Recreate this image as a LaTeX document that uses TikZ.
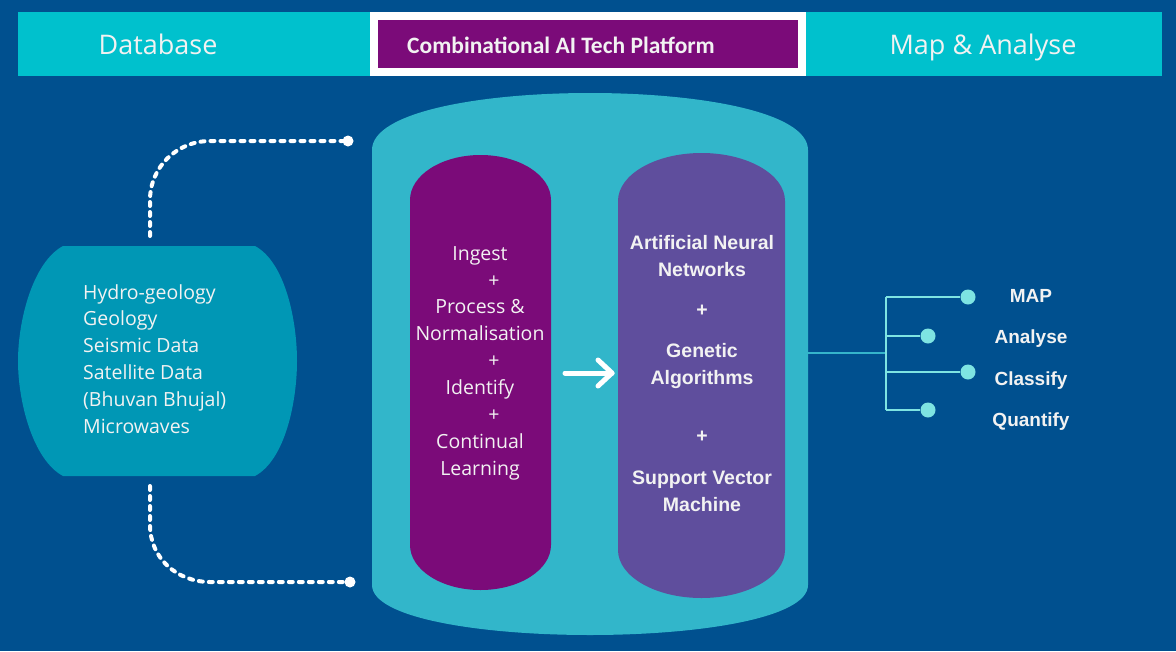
\documentclass[tikz,border=0pt]{standalone}
\usepackage{fontspec}
\setmainfont{Open Sans}
\newfontfamily\hdfont{Open Sans}
\newfontfamily\cbfont{Carlito}
\newfontfamily\arfont{Liberation Sans}
\usetikzlibrary{calc}
\definecolor{bgblue}{RGB}{0,80,143}
\definecolor{hcyan}{RGB}{0,193,205}
\definecolor{cylc}{RGB}{50,182,202}
\definecolor{dbc}{RGB}{0,151,181}
\definecolor{purp}{RGB}{123,11,121}
\definecolor{viol}{RGB}{95,78,157}
\definecolor{aqua}{RGB}{126,228,226}
\definecolor{stem}{RGB}{53,181,203}
\definecolor{txt}{RGB}{242,242,242}
\tikzset{
  lbl/.style={text=txt, inner sep=0pt},
  hdr/.style={lbl, font=\hdfont\fontsize{27}{32}\selectfont, anchor=base},
  dbtxt/.style={lbl, font=\fontsize{19.5}{26.8}\selectfont, align=left},
  pilltxt/.style={lbl, font=\fontsize{19.5}{26.9}\selectfont, align=center},
  algtxt/.style={lbl, font=\arfont\bfseries\fontsize{19.5}{27}\selectfont, align=center},
  outtxt/.style={lbl, font=\arfont\bfseries\fontsize{19}{23}\selectfont, anchor=base},
  dotline/.style={white, line width=4pt, dash pattern=on 4pt off 6pt, line cap=round},
  tree/.style={aqua, line width=2.5pt},
  tdot/.style={circle, fill=aqua, minimum size=15pt, inner sep=0pt},
  wdot/.style={circle, fill=white, minimum size=11pt, inner sep=0pt},
  warrow/.style={white, line width=5pt, line cap=round, line join=round}
}
\begin{document}
\begin{tikzpicture}[x=1pt,y=-1pt]
\fill[bgblue] (0,0) rectangle (1176,651);
\useasboundingbox (0,0) rectangle (1176,651);
% header
\fill[hcyan] (18,12) rectangle (1162,76);
\fill[white] (370,12) rectangle (806,76);
\fill[purp] (378,20) rectangle (798,68);
\node[hdr] (hdb) at (158,54) {Database};
\node[hdr] (hmap) at (983,54) {Map \& Analyse};
\node[lbl, font=\cbfont\bfseries\fontsize{23.5}{28}\selectfont] (hplat) at (561,45) {Combinational AI Tech Platform};
% database shape
\fill[dbc] (63,246) -- (255,246) .. controls (285,262) and (297,320) .. (297,361)
  .. controls (297,402) and (285,460) .. (255,476) -- (63,476)
  .. controls (33,460) and (18,402) .. (18,361) .. controls (18,320) and (33,262) .. (63,246) -- cycle;
\node[dbtxt, anchor=north west] (dbtext) at (83,284) {Hydro-geology\\Geology\\Seismic Data\\Satellite Data\\(Bhuvan Bhujal)\\Microwaves};
% dotted connectors
\coordinate (dbtop) at (150,236);
\coordinate (dbbot) at (150,486);
\node[wdot] (endtop) at (348,141) {};
\node[wdot] (endbot) at (350,582) {};
\draw[dotline] (dbtop) -- (150,200) .. controls (150,167) and (177,141) .. (210,141) -- (endtop.west);
\draw[dotline] (dbbot) -- (150,525) .. controls (150,558) and (177,582) .. (210,582) -- (endbot.west);
% cylinder
\fill[cylc] (372,150) .. controls (372,112) and (480,93) .. (590,93)
  .. controls (700,93) and (808,112) .. (808,150) -- (808,585)
  .. controls (808,618) and (700,635) .. (590,635)
  .. controls (480,635) and (372,618) .. (372,585) -- cycle;
\coordinate (cylright) at (808,353);
% left pill
\fill[purp] (410,200) .. controls (410,175.2) and (441.6,155) .. (480.5,155)
  .. controls (519.4,155) and (551,175.2) .. (551,200) -- (551,545)
  .. controls (551,569.8) and (519.4,590) .. (480.5,590)
  .. controls (441.6,590) and (410,569.8) .. (410,545) -- cycle;
\node[pilltxt, anchor=north] (proc) at (480,246) {Ingest\\\hspace*{28pt}+\\Process \&\\Normalisation\\\hspace*{28pt}+\\Identify\\\hspace*{28pt}+\\Continual\\Learning};
\coordinate (pillL) at (565,373);
% right pill
\fill[viol] (618,201) .. controls (618,174.5) and (655.4,153) .. (701.5,153)
  .. controls (747.6,153) and (785,174.5) .. (785,201) -- (785,550)
  .. controls (785,576.5) and (747.6,598) .. (701.5,598)
  .. controls (655.4,598) and (618,576.5) .. (618,550) -- cycle;
\coordinate (pillR) at (612,373);
\draw[warrow] (pillL) -- (pillR);
\draw[warrow] ($(pillR)+(-14,-13)$) -- (pillR) -- ($(pillR)+(-14,13)$);
\node[algtxt] (ann) at (702,256) {Artificial Neural\\Networks};
\node[algtxt] (p1) at (702,311) {+};
\node[algtxt] (ga) at (702,366) {Genetic\\Algorithms};
\node[algtxt] (p2) at (702,437) {+};
\node[algtxt] (svm) at (702,491) {Support Vector\\Machine};
% output tree
\coordinate (fork) at (886,353);
\node[tdot] (dmap) at (968,297) {};
\node[tdot] (dana) at (928,336) {};
\node[tdot] (dcla) at (968,372) {};
\node[tdot] (dqua) at (928,410) {};
\draw[stem, line width=2.5pt] (cylright) -- (fork);
\draw[tree] (886,297) -- (886,410);
\draw[tree] (886,297) -- (dmap);
\draw[tree] (886,336) -- (dana);
\draw[tree] (886,372) -- (dcla);
\draw[tree] (886,410) -- (dqua);
\node[outtxt] (tmap) at (1031,302) {MAP};
\node[outtxt] (tana) at (1031,343) {Analyse};
\node[outtxt] (tcla) at (1031,385) {Classify};
\node[outtxt] (tqua) at (1031,426) {Quantify};
\end{tikzpicture}
\end{document}
